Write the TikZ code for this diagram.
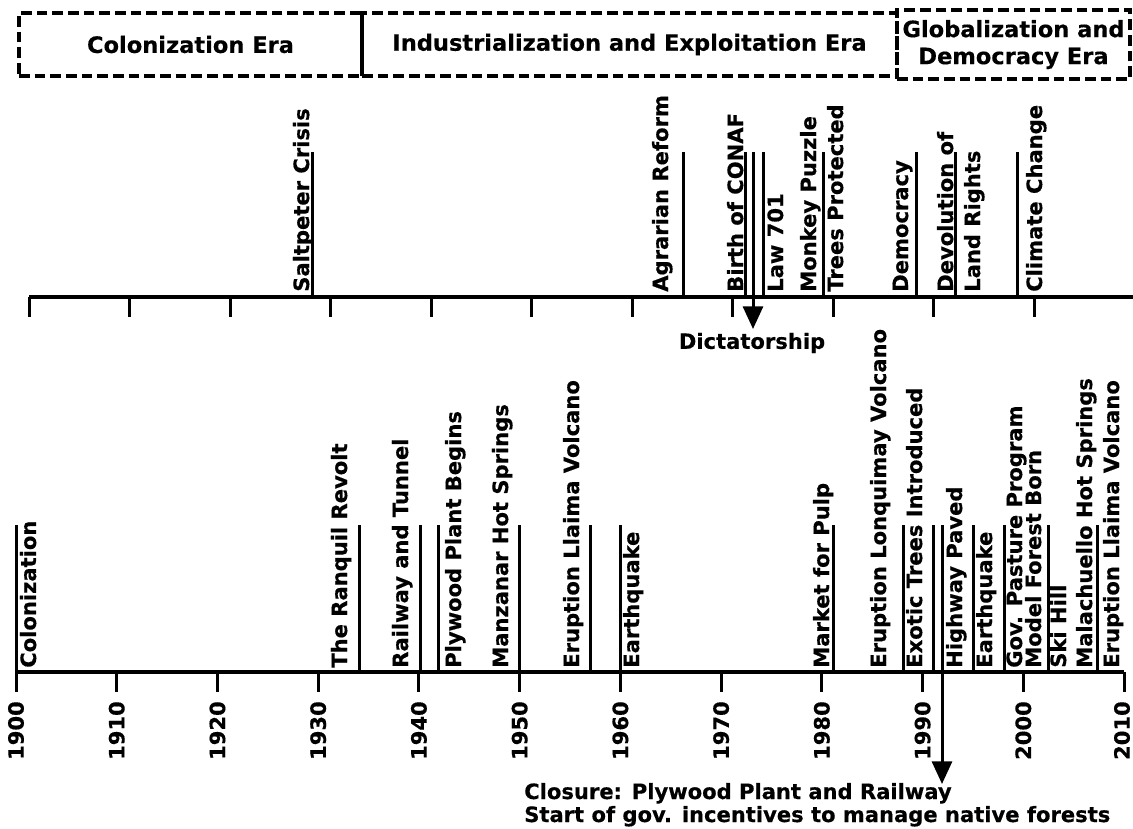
\documentclass[tikz,border=0pt]{standalone}
\usepackage{fontspec}
\setmainfont{DejaVu Sans}[BoldFeatures={FakeBold=0.4}]
\usetikzlibrary{arrows.meta}
\begin{document}
\begin{tikzpicture}[x=0.75pt,y=-0.75pt,
  evfont/.style={font=\fontsize{15.8pt}{18pt}\selectfont\bfseries},
  evlabel/.style={evfont, rotate=90, anchor=base west, inner sep=0pt},
  yearlabel/.style={evfont, rotate=90, anchor=east, inner sep=0pt},
  evline/.style={line width=2.25pt},
  axisline/.style={line width=2.6pt},
  era/.style={draw, dash pattern=on 8pt off 3.75pt, line width=2.7pt,
    font=\fontsize{16.9pt}{20.25pt}\selectfont\bfseries, align=center, inner sep=0pt},
  tip/.style={-{Triangle[width=15pt,length=17pt]}}
]
\useasboundingbox (0,0) rectangle (1133,829);

% era boxes
\node[era, minimum width=257.25pt, minimum height=47.25pt] (colera) at (190.5,44.5) {Colonization Era};
\node[era, minimum width=401.25pt, minimum height=47.25pt] (indera) at (629.5,44.5) {Industrialization and Exploitation Era};
\node[era, minimum width=174.75pt, minimum height=51.75pt] (globera) at (1013.5,44.5) {Globalization and\\Democracy Era};

% upper axis (national events)
\draw[axisline] (29,297) -- (1133,297);
\foreach \i in {0,...,10} \draw[evline] ({29+100.5*\i},297) -- ({29+100.5*\i},317);
\foreach \x in {312,683,745,763,823,916,955,1017} \draw[evline] (\x,152) -- (\x,297);
\draw[evline, tip] (753,152) -- (753,329);
\node[evfont] (dict) at (752,343) {Dictatorship};

\node[evlabel] (salt) at (309,292) {Saltpeter Crisis};
\node[evlabel] (agr) at (668,292) {Agrarian Reform};
\node[evlabel] (conaf) at (743,292) {Birth of CONAF};
\node[evlabel] (law) at (783,292) {Law 701};
\node[evlabel] (monkeyA) at (816,292) {Monkey Puzzle};
\node[evlabel] (monkeyB) at (843,292) {Trees Protected};
\node[evlabel] (demo) at (908,292) {Democracy};
\node[evlabel] (devA) at (953,292) {Devolution of};
\node[evlabel] (devB) at (980,292) {Land Rights};
\node[evlabel] (clim) at (1042,292) {Climate Change};

% lower axis (local events)
\draw[axisline] (16,672) -- (1124,672);
\foreach \i [evaluate=\i as \yr using int(1900+10*\i)] in {0,...,10} {
  \draw[evline] ({16+100.73*\i},672) -- ({16+100.73*\i},692);
  \node[yearlabel] (yr\i) at ({16+100.73*\i},701) {\yr};
}
\draw[evline] (1124,672) -- (1124,692);
\node[yearlabel] (yr11) at (1122,701) {2010};
\foreach \x in {16,359,420,438.6,519.6,590,620,833,903,933,973,1004,1048,1097} \draw[evline] (\x,525) -- (\x,672);
\draw[evline, tip] (942,525) -- (942,784);
\node[evfont, anchor=base west, inner sep=0pt] (closeA) at (524,799) {Closure: Plywood Plant and Railway};
\node[evfont, anchor=base west, inner sep=0pt] (closeB) at (524,822) {Start of gov. incentives to manage native forests};

\node[evlabel] (colo) at (36,668) {Colonization};
\node[evlabel] (ranq) at (347,668) {The Ranquil Revolt};
\node[evlabel] (rail) at (408,668) {Railway and Tunnel};
\node[evlabel] (plyw) at (461,668) {Plywood Plant Begins};
\node[evlabel] (manz) at (508,668) {Manzanar Hot Springs};
\node[evlabel] (llaA) at (579,668) {Eruption Llaima Volcano};
\node[evlabel] (quakeA) at (639,668) {Earthquake};
\node[evlabel] (pulp) at (829,668) {Market for Pulp};
\node[evlabel] (lonq) at (886,668) {Eruption Lonquimay Volcano};
\node[evlabel] (exot) at (922,668) {Exotic Trees Introduced};
\node[evlabel] (hwy) at (962,668) {Highway Paved};
\node[evlabel] (quakeB) at (992,668) {Earthquake};
\node[evlabel] (past) at (1022,668) {Gov. Pasture Program};
\node[evlabel] (model) at (1041,668) {Model Forest Born};
\node[evlabel] (ski) at (1066,668) {Ski Hill};
\node[evlabel] (mala) at (1092,668) {Malachuello Hot Springs};
\node[evlabel] (llaB) at (1119,668) {Eruption Llaima Volcano};
\end{tikzpicture}
\end{document}
